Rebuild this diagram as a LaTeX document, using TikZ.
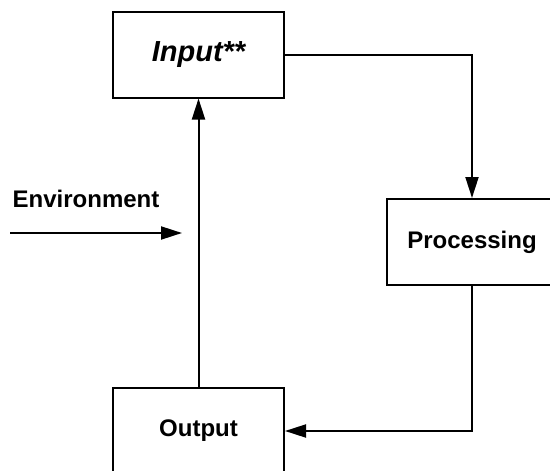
\documentclass[tikz,border=0pt]{standalone}
\usepackage{fontspec}
\setmainfont{Liberation Sans}
\usetikzlibrary{arrows.meta}

\begin{document}
\begin{tikzpicture}[x=1pt, y=-1pt]
  \tikzstyle{block} = [rectangle, draw, line width=2pt, minimum width=171pt, minimum height=86pt, font=\fontsize{24}{28}\selectfont\bfseries]
  \tikzstyle{link} = [-{Triangle[length=21pt, width=13pt]}, line width=2pt]

  \useasboundingbox (0,0) rectangle (550,471);
  \clip (0,0) rectangle (550,471);

  \node[block, font=\fontsize{29}{34}\selectfont\bfseries\itshape] (input) at (198.5,54.5) {Input**};
  \node[block] (processing) at (472,242) {Processing};
  \node[block] (output) at (198.5,431) {Output};
  \node[font=\fontsize{24}{28}\selectfont\bfseries] (environment) at (86,199) {Environment};

  \coordinate (envstart) at (10,233);
  \coordinate (envend) at (182,233);

  \draw[link] (input.east) -| (processing.north);
  \draw[link] (processing.south) |- (output.east);
  \draw[link] (output.north) -- (input.south);
  \draw[link] (envstart) -- (envend);
\end{tikzpicture}
\end{document}
